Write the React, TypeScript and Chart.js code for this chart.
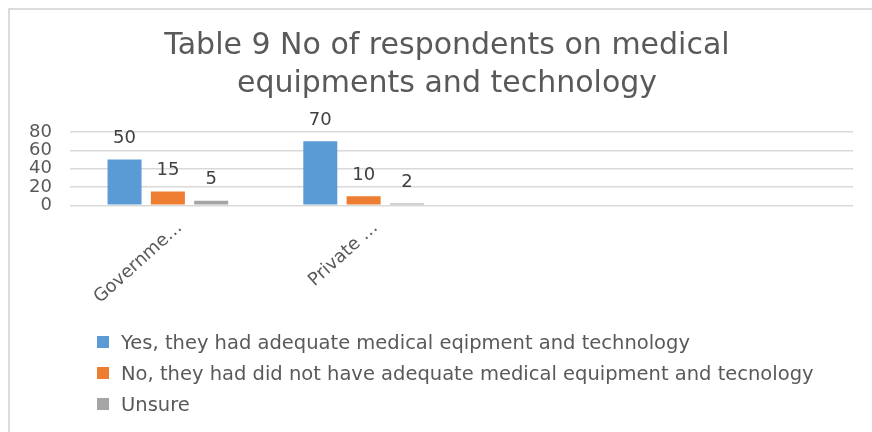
import React, { useEffect, useRef } from "react";
import { Chart, registerables } from "chart.js";

Chart.register(...registerables);

const titleLines = ["Table 9 No of respondents on medical", "equipments and technology"];
const categories = ["Governme\u2026", "Private \u2026", "", ""];
const seriesNames = [
  "Yes, they had adequate medical eqipment and technology",
  "No, they had did not have adequate medical equipment and tecnology",
  "Unsure",
];
const yesValues = [50, 70, null, null];
const noValues = [15, 10, null, null];
const unsureValues = [5, 2, null, null];
const seriesColors = ["#5B9BD5", "#ED7D31", "#A5A5A5"];
const yMin = 0;
const yMax = 80;
const yStep = 20;

const FONT = "'DejaVu Sans', sans-serif";
const TEXT = "#595959";

const valueLabels = {
  id: "valueLabels",
  afterDatasetsDraw(chart: any) {
    const ctx = chart.ctx;
    ctx.save();
    ctx.font = `18px ${FONT}`;
    ctx.fillStyle = "#404040";
    ctx.textAlign = "center";
    ctx.textBaseline = "middle";
    chart.data.datasets.forEach((ds: any, i: number) => {
      const meta = chart.getDatasetMeta(i);
      meta.data.forEach((el: any, j: number) => {
        const v = ds.data[j];
        if (v == null) return;
        ctx.fillText(String(v), el.x, el.y - 21);
      });
    });
    ctx.restore();
  },
};

export default function App() {
  const ref = useRef<HTMLCanvasElement | null>(null);

  useEffect(() => {
    if (!ref.current) return;
    const seriesValues = [yesValues, noValues, unsureValues];
    const chart = new Chart(ref.current, {
      type: "bar",
      data: {
        labels: categories,
        datasets: seriesNames.map((name, i) => ({
          label: name,
          data: seriesValues[i],
          backgroundColor: seriesColors[i],
          categoryPercentage: 0.664,
          barPercentage: 0.785,
          yAxisID: "y",
        })),
      },
      options: {
        responsive: false,
        animation: false,
        devicePixelRatio: 1,
        layout: { padding: { left: 12, right: 0, top: 0, bottom: 0 } },
        plugins: {
          legend: { display: false },
          tooltip: { enabled: false },
          title: {
            display: true,
            text: titleLines,
            color: TEXT,
            font: { family: FONT, size: 30, weight: "normal", lineHeight: 1.27 },
            padding: { top: 17, bottom: 29 },
          },
        },
        scales: {
          x: {
            grid: { display: false },
            border: { display: false },
            ticks: {
              autoSkip: false,
              minRotation: 42,
              maxRotation: 42,
              color: TEXT,
              font: { family: FONT, size: 18 },
              padding: 4,
              labelOffset: 12,
            },
            afterFit: (s: any) => {
              s.height = 226.7;
            },
          },
          y: {
            min: yMin,
            max: yMax,
            border: { display: false },
            grid: { color: "#d9d9d9", lineWidth: 1.5, drawTicks: false },
            ticks: {
              stepSize: yStep,
              autoSkip: false,
              color: TEXT,
              font: { family: FONT, size: 18, lineHeight: 1 },
              padding: 18,
            },
            afterFit: (s: any) => {
              s.width = 48;
            },
          },
          yRight: {
            position: "right",
            min: yMin,
            max: yMax,
            border: { display: false },
            grid: { display: false, drawTicks: false },
            ticks: { display: false },
            afterFit: (s: any) => {
              s.width = 19;
            },
          },
        },
      },
      plugins: [valueLabels],
    });
    return () => chart.destroy();
  }, []);

  return (
    <div
      style={{
        position: "fixed",
        left: 8,
        top: 8,
        width: 864,
        height: 424,
        boxSizing: "border-box",
        borderLeft: "2px solid #dcdcdc",
        borderTop: "2px solid #dcdcdc",
        background: "#fff",
        overflow: "hidden",
      }}
    >
      <canvas ref={ref} width={862} height={422} style={{ display: "block" }} />
      <div style={{ position: "absolute", left: 87, top: 316.5 }}>
        {seriesNames.map((name, i) => (
          <div
            key={name}
            style={{ display: "flex", alignItems: "center", height: 31 }}
          >
            <span
              style={{
                display: "inline-block",
                width: 12,
                height: 12,
                background: seriesColors[i],
                marginRight: 12,
              }}
            />
            <span
              style={{
                fontFamily: FONT,
                fontSize: 19.5,
                color: TEXT,
                whiteSpace: "nowrap",
              }}
            >
              {name}
            </span>
          </div>
        ))}
      </div>
    </div>
  );
}
